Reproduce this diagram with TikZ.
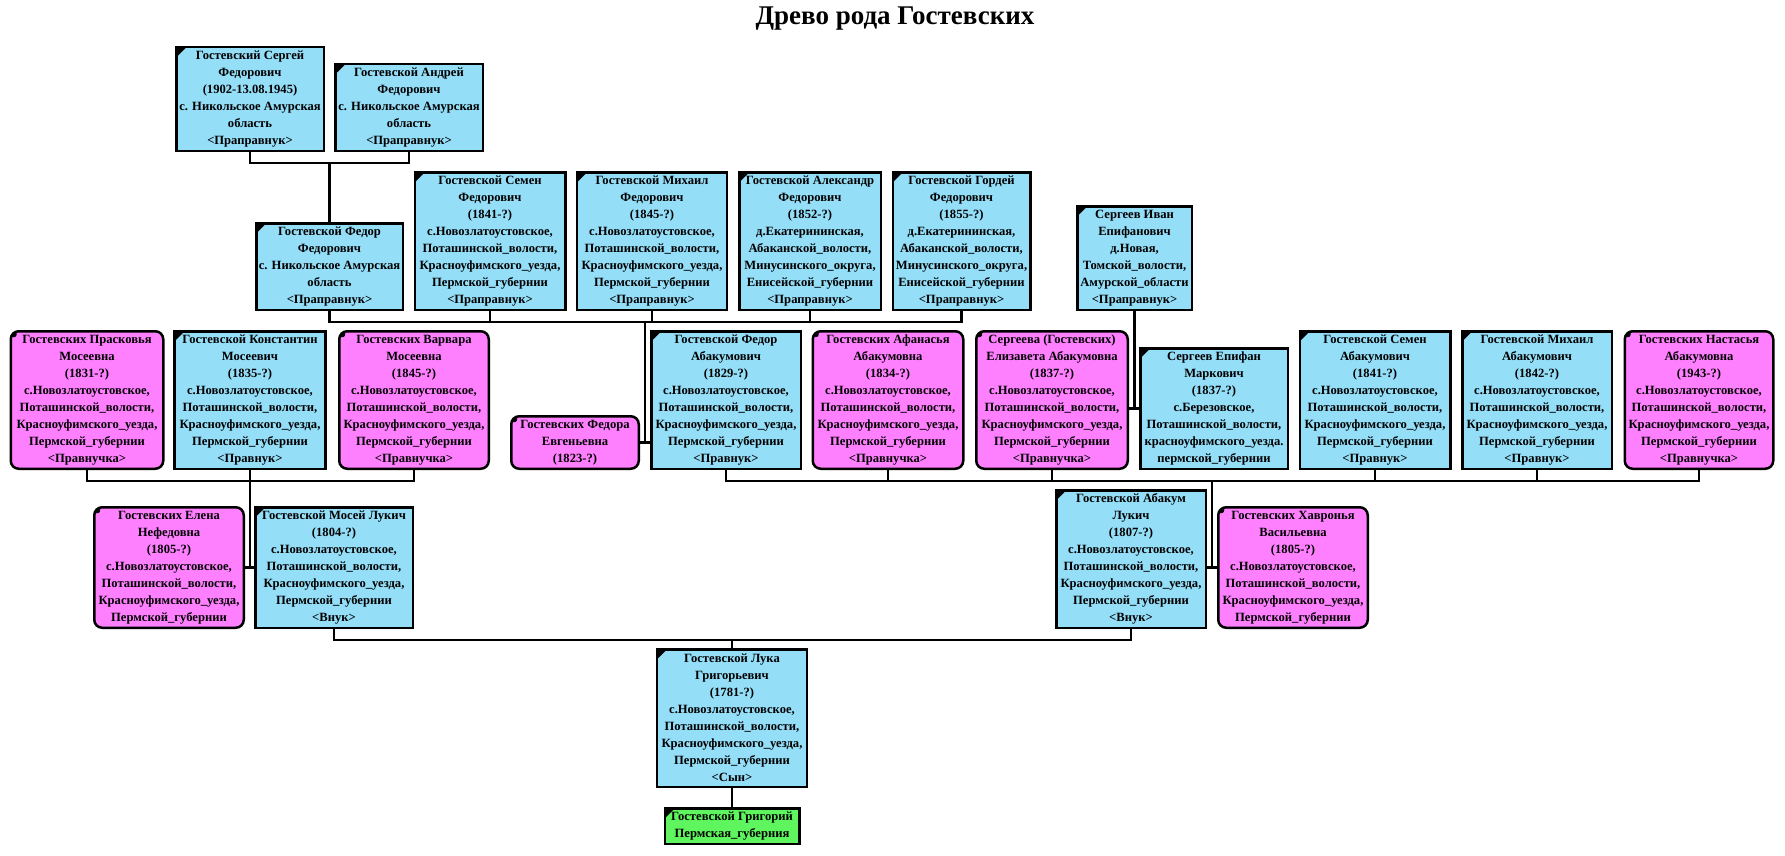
\documentclass[tikz,border=0pt]{standalone}
\usepackage{fontspec}
\setmainfont{Liberation Serif}
\usepackage{tikz}
\usetikzlibrary{calc}
\definecolor{manblue}{RGB}{148,222,248}
\definecolor{womanpink}{RGB}{255,128,255}
\definecolor{rootgreen}{RGB}{94,245,94}
\newcommand{\novozl}{с.Новозлатоустовское,\\ Поташинской\_волости,\\ Красноуфимского\_уезда,\\ Пермской\_губернии}
\newcommand{\enis}{д.Екатерининская,\\ Абаканской\_волости,\\ Минусинского\_округа,\\ Енисейской\_губернии}
\tikzset{
  person/.style 2 args={draw, line width=2.5pt, anchor=south, align=center,
    inner xsep=2pt, inner ysep=0pt, minimum width=#1, minimum height=#2*17+1.5,
    font=\bfseries\fontsize{12.6}{17}\selectfont,
    path picture={\fill[black] (path picture bounding box.north west) -- ++(10,0) -- ++(-10,10) -- cycle;}},
  man/.style 2 args={person={#1}{#2}, fill=manblue},
  woman/.style 2 args={person={#1}{#2}, fill=womanpink, rounded corners=8pt},
  root/.style 2 args={person={#1}{#2}, fill=rootgreen},
  link/.style={line width=2.5pt}
}
\begin{document}
\begin{tikzpicture}[x=1pt, y=-1pt]
\useasboundingbox (0,0) rectangle (1785,856);
\node[font=\bfseries\fontsize{27}{31}\selectfont, anchor=base] (title) at (895,25) {Древо рода Гостевских};

\node[man={147.5}{6}] (sergej) at (250,152) {Гостевский Сергей\\ Федорович\\ (1902-13.08.1945)\\ с. Никольское Амурская\\ область\\ <Праправнук>};
\node[man={147.5}{5}] (andrej) at (409,152) {Гостевской Андрей\\ Федорович\\ с. Никольское Амурская\\ область\\ <Праправнук>};

\node[man={146.5}{5}] (fedorF) at (329.5,311) {Гостевской Федор\\ Федорович\\ с. Никольское Амурская\\ область\\ <Праправнук>};
\node[man={150.5}{8}] (semenF) at (490,311) {Гостевской Семен\\ Федорович\\ (1841-?)\\ \novozl\\ <Праправнук>};
\node[man={150}{8}] (mihailF) at (652,311) {Гостевской Михаил\\ Федорович\\ (1845-?)\\ \novozl\\ <Праправнук>};
\node[man={141.5}{8}] (aleksandr) at (810,311) {Гостевской Александр\\ Федорович\\ (1852-?)\\ \enis\\ <Праправнук>};
\node[man={137.5}{8}] (gordej) at (961.5,311) {Гостевской Гордей\\ Федорович\\ (1855-?)\\ \enis\\ <Праправнук>};
\node[man={114.5}{6}] (ivan) at (1134.5,311) {Сергеев Иван\\ Епифанович\\ д.Новая,\\ Томской\_волости,\\ Амурской\_области\\ <Праправнук>};

\node[woman={152.5}{8}] (praskovja) at (87,470) {Гостевских Прасковья\\ Мосеевна\\ (1831-?)\\ \novozl\\ <Правнучка>};
\node[man={151}{8}] (konstantin) at (250,470) {Гостевской Константин\\ Мосеевич\\ (1835-?)\\ \novozl\\ <Правнук>};
\node[woman={149.5}{8}] (varvara) at (414,470) {Гостевских Варвара\\ Мосеевна\\ (1845-?)\\ \novozl\\ <Правнучка>};
\node[woman={127.5}{3}] (fedora) at (575,470) {Гостевских Федора\\ Евгеньевна\\ (1823-?)};
\node[man={149.5}{8}] (fedorA) at (726,470) {Гостевской Федор\\ Абакумович\\ (1829-?)\\ \novozl\\ <Правнук>};
\node[woman={150.5}{8}] (afanasja) at (888,470) {Гостевских Афанасья\\ Абакумовна\\ (1834-?)\\ \novozl\\ <Правнучка>};
\node[woman={151.5}{8}] (elizaveta) at (1052,470) {Сергеева (Гостевских)\\ Елизавета Абакумовна\\ (1837-?)\\ \novozl\\ <Правнучка>};
\node[man={147.5}{7}] (epifan) at (1214,470) {Сергеев Епифан\\ Маркович\\ (1837-?)\\ с.Березовское,\\ Поташинской\_волости,\\ красноуфимского\_уезда.\\ пермской\_губернии};
\node[man={150.5}{8}] (semenA) at (1375,470) {Гостевской Семен\\ Абакумович\\ (1841-?)\\ \novozl\\ <Правнук>};
\node[man={149.5}{8}] (mihailA) at (1537,470) {Гостевской Михаил\\ Абакумович\\ (1842-?)\\ \novozl\\ <Правнук>};
\node[woman={148.5}{8}] (nastasja) at (1699,470) {Гостевских Настасья\\ Абакумовна\\ (1943-?)\\ \novozl\\ <Правнучка>};

\node[woman={149.5}{7}] (elena) at (169,629) {Гостевских Елена\\ Нефедовна\\ (1805-?)\\ \novozl};
\node[man={157.5}{7}] (mosej) at (334,629) {Гостевской Мосей Лукич\\ (1804-?)\\ \novozl\\ <Внук>};
\node[man={149.5}{8}] (abakum) at (1131,629) {Гостевской Абакум\\ Лукич\\ (1807-?)\\ \novozl\\ <Внук>};
\node[woman={149.5}{7}] (havronja) at (1293,629) {Гостевских Хавронья\\ Васильевна\\ (1805-?)\\ \novozl};

\node[man={150}{8}] (luka) at (732,788) {Гостевской Лука\\ Григорьевич\\ (1781-?)\\ \novozl\\ <Сын>};
\node[root={134.5}{2}] (grigorij) at (732,845) {Гостевской Григорий\\ Пермская\_губерния};

\coordinate (j1) at (329.5,163);
\coordinate (j2) at (645,322);
\coordinate (j3) at (250,481);
\coordinate (j4) at (1212,481);
\coordinate (j5) at (732,640);

\draw[link] (sergej.south) |- (j1) -| (andrej.south);
\draw[link] (j1) -- (fedorF.north);

\draw[link] (fedorF.south) |- (j2) -| (gordej.south);
\foreach \n in {semenF,mihailF,aleksandr}
  \draw[link] (\n.south) -- (\n.south |- j2);
\draw[link] (j2) -- (j2 |- fedora.east);
\draw[link] (fedora.east) -- (fedora.east -| fedorA.west);

\draw[link] (ivan.south) -- (ivan.south |- epifan.west);
\draw[link] (epifan.west) -- (epifan.west -| elizaveta.east);

\draw[link] (praskovja.south) |- (j3) -| (varvara.south);
\draw[link] (konstantin.south) -- (konstantin.south |- mosej.west);
\draw[link] (elena.east) -- (mosej.west);

\draw[link] (fedorA.south) |- (j4) -| (nastasja.south);
\foreach \n in {afanasja,elizaveta,semenA,mihailA}
  \draw[link] (\n.south) -- (\n.south |- j4);
\draw[link] (j4) -- (j4 |- havronja.west);
\draw[link] (havronja.west) -- (havronja.west -| abakum.east);

\draw[link] (mosej.south) |- (j5) -| (abakum.south);
\draw[link] (j5) -- (luka.north);
\draw[link] (luka.south) -- (grigorij.north);
\end{tikzpicture}
\end{document}
